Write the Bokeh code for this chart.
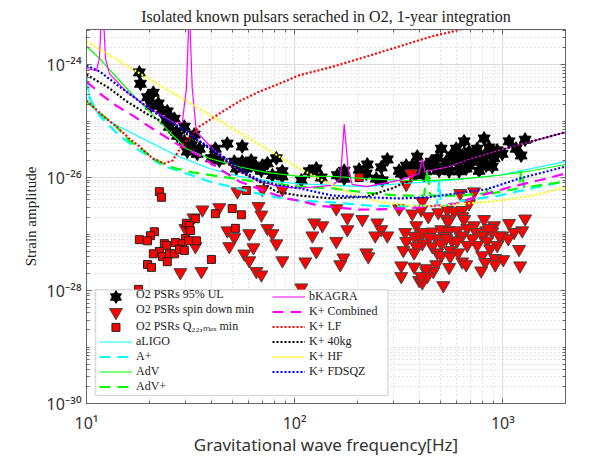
import numpy as np
from bokeh.embed import file_html
from bokeh.resources import INLINE
from bokeh.models import BoxAnnotation, FixedTicker, Legend, LegendItem, LogAxis
from bokeh.plotting import figure

# all values are log10(frequency in Hz) and log10(strain amplitude)
star_f = [1.254,1.259,1.321,1.293,1.345,1.312,1.388,1.360,1.422,1.384,1.470,1.398,1.432,1.437,1.518,1.470,1.504,1.542,1.484,1.532,
          1.676,1.748,1.619,1.600,1.638,1.710,1.748,1.791,1.815,1.845,1.869,1.912,1.72,1.768,1.84,1.94,1.893,1.94,2.032,2.104,
          2.07,2.128,2.205,2.238,2.238,2.31,2.349,2.344,2.416,2.445,2.392,2.421,2.512,2.541,2.589,2.584,2.632,2.622,2.67,2.704,
          2.685,2.728,2.776,2.814,2.805,2.776,2.838,2.877,2.91,2.934,2.853,2.901,2.886,2.824,2.742,2.694,2.79,2.973,2.958,3.03,
          3.107,3.064,3.088,2.997,2.92,2.872,2.824,2.728,2.632,2.565,2.536,2.502,2.584,2.656,2.752,2.776,2.838,2.92,2.949]
star_h = [-24.14,-24.34,-24.5,-24.58,-24.69,-24.73,-24.83,-24.81,-24.96,-24.99,-25.1,-25.1,-25.19,-25.26,-25.24,-25.36,-25.43,-25.49,-25.54,-25.58,
          -25.40,-25.45,-25.49,-25.66,-25.7,-25.72,-25.72,-25.7,-25.81,-25.79,-25.75,-25.66,-25.84,-25.84,-25.88,-25.89,-25.96,-25.98,-26.05,-25.84,
          -25.89,-26.0,-25.96,-25.88,-26.02,-25.86,-25.77,-25.93,-25.82,-25.68,-26.02,-26.05,-25.93,-25.89,-25.63,-25.79,-25.79,-25.96,-25.81,-25.49,
          -25.66,-25.72,-25.49,-25.36,-25.61,-25.72,-25.54,-25.49,-25.31,-25.47,-25.72,-25.72,-25.88,-25.84,-25.89,-25.88,-25.89,-25.52,-25.66,-25.36,
          -25.33,-25.49,-25.61,-25.58,-25.61,-25.63,-25.7,-25.81,-25.89,-25.79,-25.79,-25.88,-25.93,-25.72,-25.61,-25.58,-25.79,-25.79,-25.81]

tri_f = [1.725,1.845,1.941,1.514,1.557,1.638,1.826,1.84,1.475,1.677,1.71,1.782,1.869,1.893,1.912,1.686,1.802,1.523,1.758,1.782,
         1.816,1.84,1.941,1.451,1.552,2.051,2.032,2.094,2.085,2.104,2.2,2.253,2.325,2.397,2.133,2.253,2.416,2.387,2.445,2.2,
         2.344,2.354,2.234,2.219,2.502,2.565,2.608,2.642,2.69,2.733,2.766,2.805,2.805,2.728,2.738,2.814,2.613,2.838,2.795,2.862,
         2.56,2.536,2.584,2.531,2.536,2.574,2.598,2.618,2.661,2.704,2.742,2.781,2.862,2.91,2.958,3.03,3.107,3.093,3.054,2.997,
         3.026,2.949,2.92,2.934,2.829,2.872,2.901,2.805,2.757,2.718,2.68,2.646,2.613,2.584,2.522,2.574,2.661,2.704,2.747,2.786,
         2.829,2.877,2.925,2.973,2.939,2.901,2.685,2.704,2.747,2.805,2.824,2.915,2.963,2.963,3.002,3.078,3.083,2.896,2.742,2.68,
         2.666,2.632,2.574,2.512,2.512,2.598,2.613,2.637,2.714,2.608,2.632,2.728,2.781,2.853,2.982]
tri_h = [-26.25,-26.21,-26.21,-26.71,-26.57,-26.53,-26.51,-26.66,-26.9,-26.94,-27.06,-26.99,-26.9,-26.99,-27.17,-27.22,-27.24,-27.22,-27.35,-27.47,
         -27.66,-27.72,-27.47,-27.68,-27.66,-27.49,-27.95,-26.8,-27.03,-27.31,-26.55,-26.71,-26.74,-26.8,-26.85,-26.92,-26.92,-27.03,-27.03,-27.13,
         -27.33,-27.4,-27.42,-27.54,-26.55,-26.64,-26.57,-26.69,-26.62,-26.57,-26.6,-26.58,-26.69,-26.73,-26.78,-26.74,-26.42,-26.46,-26.28,-26.25,
         -25.93,-26.12,-26.85,-26.97,-27.13,-27.04,-27.03,-26.97,-26.96,-26.92,-26.94,-26.94,-26.85,-26.74,-26.85,-26.81,-26.73,-26.94,-26.97,-27.03,
         -27.08,-26.96,-26.94,-26.9,-26.9,-26.97,-27.03,-27.03,-27.12,-27.04,-27.08,-27.06,-27.17,-27.22,-27.29,-27.33,-27.22,-27.17,-27.29,-27.33,
         -27.2,-27.2,-27.12,-27.2,-27.26,-27.38,-27.33,-27.38,-27.4,-27.49,-27.54,-27.5,-27.43,-27.54,-27.45,-27.27,-27.56,-27.65,-27.59,-27.54,
         -27.66,-27.66,-27.58,-27.56,-27.75,-27.82,-27.86,-27.75,-27.91,-27.75,-27.61,-27.08,-27.12,-27.08,-27.03]

sq_f = [1.350,1.360,1.700,1.744,1.619,1.523,1.480,1.494,1.499,1.326,1.307,1.254,1.293,1.715,1.374,1.384,1.427,1.475,1.461,1.49,
        1.528,1.350,1.321,1.365,1.398,1.422,1.446,1.470,1.293,1.312,1.388,1.600,1.25,1.768,2.31]
sq_h = [-26.25,-26.35,-26.55,-26.66,-26.64,-26.73,-26.81,-26.85,-26.94,-26.96,-27.03,-27.1,-27.12,-26.9,-27.17,-27.2,-27.15,-27.08,-27.17,-27.12,
        -27.12,-27.31,-27.35,-27.4,-27.35,-27.35,-27.27,-27.29,-27.54,-27.59,-27.49,-27.45,-27.98,-26.23,-26.0]

aligo_f = [1.0,1.014,1.048,1.125,1.269,1.432,1.59,1.734,1.892,2.022,2.181,2.344,2.502,2.684,2.982,3.14,3.298]
aligo_h = [-24.21,-24.55,-24.83,-25.04,-25.31,-25.61,-25.84,-25.98,-26.07,-26.11,-26.14,-26.16,-26.11,-26.07,-25.96,-25.84,-25.72]
aplus_f = [1.0,1.014,1.062,1.158,1.254,1.365,1.48,1.59,1.72,1.864,2.022,2.181,2.373,2.516,2.67,2.684,2.694,2.704,2.718,2.79,2.982,3.14,3.298]
aplus_h = [-24.25,-24.6,-24.9,-25.26,-25.52,-25.79,-25.93,-26.07,-26.19,-26.32,-26.41,-26.44,-26.5,-26.51,-26.5,-26.5,-26.07,-26.5,-26.5,-26.42,-26.32,-26.19,-26.07]
adv_f = [1.0,1.062,1.192,1.35,1.48,1.59,1.734,1.864,2.022,2.181,2.344,2.502,2.66,2.824,2.982,3.14,3.298]
adv_h = [-23.68,-23.89,-24.42,-25.01,-25.49,-25.66,-25.81,-25.91,-25.98,-25.98,-26.02,-26.05,-26.05,-26.02,-25.96,-25.88,-25.77]
advp_f = [1.0,1.077,1.144,1.206,1.264,1.317,1.398,1.509,1.638,1.768,2.022,2.181,2.344,2.502,2.622,2.637,2.651,2.79,2.92,2.934,2.949,3.078,3.088,3.103,3.174,3.298]
advp_h = [-24.65,-24.9,-25.1,-25.35,-25.49,-25.66,-25.81,-25.91,-25.98,-26.05,-26.16,-26.19,-26.27,-26.32,-26.32,-25.84,-26.32,-26.32,-26.28,-26.16,-26.28,-26.19,-25.88,-26.18,-26.14,-26.07]
bkagra_f = [1.0,1.048,1.062,1.077,1.091,1.11,1.192,1.302,1.422,1.46,1.48,1.494,1.508,1.528,1.638,1.734,1.83,1.926,2.022,2.181,2.22,2.238,2.257,2.276,2.344,2.502,2.597,2.613,2.627,2.646,2.742,2.853,2.982,3.14,3.298]
bkagra_h = [-24.07,-24.11,-23.89,-22.8,-23.89,-24.16,-24.48,-24.78,-25.03,-25.03,-24.42,-23.0,-24.42,-25.19,-25.61,-25.89,-26.07,-26.16,-26.19,-26.14,-26.02,-25.06,-25.84,-26.12,-26.16,-26.05,-25.93,-25.68,-25.91,-25.88,-25.81,-25.66,-25.52,-25.36,-25.2]
comb_f = [1.0,1.077,1.144,1.221,1.302,1.432,1.542,1.653,1.734,1.864,1.96,2.022,2.118,2.31,2.536,2.646,2.776,2.872,3.045,3.208,3.298]
comb_h = [-24.3,-24.55,-24.73,-24.9,-25.1,-25.4,-25.61,-25.88,-26.07,-26.25,-26.37,-26.41,-26.5,-26.57,-26.55,-26.51,-26.46,-26.34,-26.16,-26.02,-25.93]
lf_f = [1.0,1.077,1.144,1.206,1.254,1.317,1.374,1.413,1.46,1.542,1.638,1.734,1.83,1.926,2.022,2.181,2.344,2.502,2.66,2.776,2.886]
lf_h = [-24.64,-24.9,-25.1,-25.31,-25.45,-25.66,-25.75,-25.7,-25.43,-25.1,-24.87,-24.65,-24.48,-24.34,-24.19,-24.04,-23.86,-23.68,-23.5,-23.4,-23.29]
kg40_f = [1.0,1.11,1.192,1.302,1.432,1.542,1.638,1.734,1.83,1.912,2.022,2.181,2.344,2.469,2.613,2.742,2.853,2.982,3.14,3.298]
kg40_h = [-24.18,-24.42,-24.65,-24.9,-25.13,-25.36,-25.61,-25.89,-26.07,-26.25,-26.32,-26.37,-26.34,-26.19,-25.96,-25.84,-25.66,-25.52,-25.36,-25.2]
hf_f = [1.0,1.302,1.542,1.782,2.022,2.118,2.214,2.31,2.42,2.565,2.694,2.824,2.982,3.14,3.298]
hf_h = [-23.59,-24.26,-24.78,-25.31,-25.84,-26.02,-26.19,-26.34,-26.44,-26.5,-26.5,-26.46,-26.41,-26.32,-26.18]
fds_f = [1.0,1.062,1.158,1.254,1.35,1.446,1.542,1.638,1.734,1.83,1.926,2.022,2.181,2.344,2.502,2.646,2.776,2.92,3.078,3.298]
fds_h = [-24.02,-24.12,-24.39,-24.65,-24.9,-25.1,-25.35,-25.58,-25.84,-26.05,-26.14,-26.19,-26.32,-26.35,-26.37,-26.35,-26.28,-26.21,-26.02,-25.81]

x_ticks = [10.0, 100.0, 1000.0]
x_labels = ["10¹", "10²", "10³"]
y_ticks = [1e-30, 1e-28, 1e-26, 1e-24]
y_labels = ["10⁻³⁰", "10⁻²⁸", "10⁻²⁶", "10⁻²⁴"]


def un(a):
    return 10.0 ** np.array(a)


x_minor = [m * 10.0 ** e for e in (1, 2, 3) for m in range(2, 10) if m * 10.0 ** e < 2000.5]
y_minor = [float(f"{m}e{e}") for e in range(-30, -23) for m in range(1, 10)]
x_ticker = FixedTicker(ticks=x_ticks, minor_ticks=x_minor)
y_ticker = FixedTicker(ticks=y_ticks, minor_ticks=y_minor)

p = figure(frame_width=479, frame_height=374, x_axis_type="log", y_axis_type="log",
           x_range=(10, 2000), y_range=(1e-30, 10 ** -23.38),
           output_backend="svg", toolbar_location=None, min_border_left=86,
           min_border_right=18, min_border_top=28, min_border_bottom=58)
p.title.text = "Isolated known pulsars serached in O2, 1-year integration"
p.title.align = "center"
p.title.text_font = "Liberation Serif"
p.title.text_font_size = "16px"
p.title.text_font_style = "normal"
p.title.text_color = "#222222"
p.outline_line_color = "#666666"

p.xaxis.ticker = x_ticker
p.yaxis.ticker = y_ticker
p.xaxis.major_label_overrides = dict(zip(x_ticks, x_labels))
p.yaxis.major_label_overrides = dict(zip(y_ticks, y_labels))
p.xaxis.axis_label = "Gravitational wave frequency[Hz]"
p.yaxis.axis_label = "Strain amplitude"
p.xaxis.axis_label_text_font = "Noto Sans"
p.xaxis.axis_label_text_font_size = "17px"
p.xaxis.axis_label_text_font_style = "normal"
p.xaxis.axis_label_text_color = "#333333"
p.xaxis.axis_label_standoff = -4
p.xaxis.major_label_standoff = 8
p.yaxis.axis_label_text_font = "Liberation Serif"
p.yaxis.axis_label_text_font_size = "15px"
p.yaxis.axis_label_text_font_style = "normal"
p.yaxis.axis_label_text_color = "#222222"
for ax in (p.xaxis, p.yaxis):
    ax.major_label_text_font = "Noto Sans"
    ax.major_label_text_font_size = "16px"
    ax.major_label_text_color = "#333333"
    ax.axis_line_color = "#666666"
    ax.major_tick_line_color = "#666666"
    ax.minor_tick_line_color = "#666666"
    ax.major_tick_in = 5
    ax.major_tick_out = 0
    ax.minor_tick_in = 3
    ax.minor_tick_out = 0

p.xgrid.ticker = x_ticker
p.ygrid.ticker = y_ticker
p.grid.grid_line_color = "#dedede"
p.grid.minor_grid_line_color = "#c8c8c8"
p.grid.minor_grid_line_dash = "1 3"

top_axis = LogAxis(ticker=x_ticker, major_label_text_font_size="1px", major_label_text_color=None,
                   axis_line_color="#666666", major_label_standoff=0,
                   major_tick_in=5, major_tick_out=0, minor_tick_in=3, minor_tick_out=0,
                   major_tick_line_color="#666666", minor_tick_line_color="#666666")
right_axis = LogAxis(ticker=y_ticker, major_label_text_font_size="1px", major_label_text_color=None,
                     axis_line_color="#666666", major_label_standoff=0,
                     major_tick_in=5, major_tick_out=0, minor_tick_in=3, minor_tick_out=0,
                     major_tick_line_color="#666666", minor_tick_line_color="#666666")
p.add_layout(top_axis, "above")
p.add_layout(right_axis, "right")

# six pointed stars, made of two black triangles
s1 = p.scatter(un(star_f), un(star_h), marker="triangle", size=12, color="black")
s2 = p.scatter(un(star_f), un(star_h), marker="inverted_triangle", size=12, color="black")
tri = p.scatter(un(tri_f), un(tri_h), marker="inverted_triangle", size=13, fill_color="#ff0000",
                line_color="#444444", line_width=1)
sq = p.scatter(un(sq_f), un(sq_h), marker="square", size=8, fill_color="#ff0000",
               line_color="#222222", line_width=1)

# a very long dash: plain solid thin lines lose their colour in the svg legend
solid = "4000 1"
l_aligo = p.line(un(aligo_f), un(aligo_h), line_color="#00ffff", line_width=1.2, line_dash=solid)
l_aplus = p.line(un(aplus_f), un(aplus_h), line_color="#00ffff", line_width=2.2, line_dash="11 7")
l_adv = p.line(un(adv_f), un(adv_h), line_color="#00ff00", line_width=1.2, line_dash=solid)
l_advp = p.line(un(advp_f), un(advp_h), line_color="#00ff00", line_width=2.2, line_dash="11 7")
l_bk = p.line(un(bkagra_f), un(bkagra_h), line_color="#ff00ff", line_width=1.2, line_dash=solid)
l_comb = p.line(un(comb_f), un(comb_h), line_color="#ff00ff", line_width=2.2, line_dash="11 7")
l_lf = p.line(un(lf_f), un(lf_h), line_color="#ff0000", line_width=2.2, line_dash="2 2")
l_40 = p.line(un(kg40_f), un(kg40_h), line_color="#000000", line_width=2.2, line_dash="2 2")
l_hf = p.line(un(hf_f), un(hf_h), line_color="#ffff00", line_width=2.2, line_dash="2 2")
l_fds = p.line(un(fds_f), un(fds_h), line_color="#0000ff", line_width=2.2, line_dash="2 2")

# white legend box behind two transparent legend columns
p.add_layout(BoxAnnotation(left=11.05, right=280.5, bottom=1.39e-30, top=1.03e-28,
                           fill_color="white", fill_alpha=1.0, line_color="#888888", line_width=1.5))

legend_style = dict(spacing=0, padding=0, margin=0, glyph_width=33, glyph_height=15, label_height=15,
                    label_standoff=4, label_text_font="Liberation Serif", label_text_font_size="12px",
                    label_text_line_height=1.0, label_text_color="#222222",
                    border_line_color=None, background_fill_color=None)
# the marker keys are drawn below at full size, the legend would make them too small
left_legend = Legend(items=[
    LegendItem(label="O2 PSRs 95% UL", renderers=[]),
    LegendItem(label="O2 PSRs spin down min", renderers=[]),
    LegendItem(label="O2 PSRs Q₂₂,ₘₐₓ min", renderers=[]),
    LegendItem(label="aLIGO", renderers=[l_aligo]),
    LegendItem(label="A+", renderers=[l_aplus]),
    LegendItem(label="AdV", renderers=[l_adv]),
    LegendItem(label="AdV+", renderers=[l_advp]),
], location=(13, 9), **legend_style)
right_legend = Legend(items=[
    LegendItem(label="bKAGRA", renderers=[l_bk]),
    LegendItem(label="K+ Combined", renderers=[l_comb]),
    LegendItem(label="K+ LF", renderers=[l_lf]),
    LegendItem(label="K+ 40kg", renderers=[l_40]),
    LegendItem(label="K+ HF", renderers=[l_hf]),
    LegendItem(label="K+ FDSQZ", renderers=[l_fds]),
], location=(186, 24), **legend_style)
p.add_layout(left_legend, "center")
p.add_layout(right_legend, "center")

key_f = 13.85
key_h = [10 ** -28.115, 10 ** -28.384, 10 ** -28.653]
p.scatter([key_f], [key_h[0]], marker="triangle", size=11, color="black", level="overlay")
p.scatter([key_f], [key_h[0]], marker="inverted_triangle", size=11, color="black", level="overlay")
p.scatter([key_f], [key_h[1]], marker="inverted_triangle", size=13, fill_color="#ff0000",
          line_color="#444444", line_width=1, level="overlay")
p.scatter([key_f], [key_h[2]], marker="square", size=8, fill_color="#ff0000",
          line_color="#222222", line_width=1, level="overlay")

open("out.html", "w").write(file_html(p, INLINE))
